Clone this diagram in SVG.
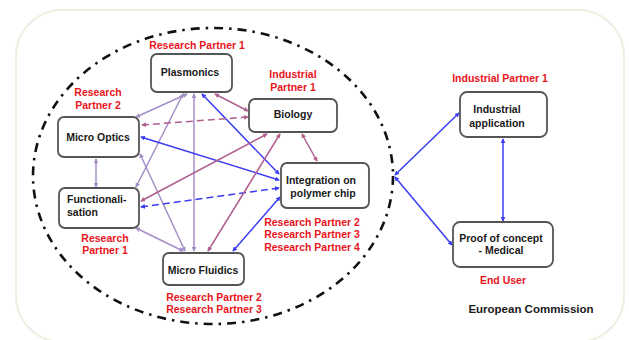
<svg xmlns="http://www.w3.org/2000/svg" width="629" height="340" viewBox="0 0 629 340">
<defs>
<style>
.box{fill:#fff;stroke:#555;stroke-width:1.8}
.t{font-family:"Liberation Sans",Arial,sans-serif;font-weight:bold;font-size:10.5px;fill:#1a1a1a}
.r{font-family:"Liberation Sans",Arial,sans-serif;font-weight:bold;font-size:10.5px;fill:#e8141c}
.lav{stroke:#a48fc8;stroke-width:1.5;fill:none;marker-start:url(#mlav);marker-end:url(#mlav)}
.mau{stroke:#b0608f;stroke-width:1.5;fill:none;marker-start:url(#mmau);marker-end:url(#mmau)}
.blu{stroke:#3c3cf2;stroke-width:1.5;fill:none;marker-start:url(#mblu);marker-end:url(#mblu)}
.dash{stroke-dasharray:7,4}
</style>
<marker id="mlav" viewBox="0 0 6 6" refX="5" refY="3" markerWidth="3.2" markerHeight="3.2" orient="auto-start-reverse"><path d="M0,0 L6,3 L0,6 z" fill="#a48fc8"/></marker>
<marker id="mmau" viewBox="0 0 6 6" refX="5" refY="3" markerWidth="3.2" markerHeight="3.2" orient="auto-start-reverse"><path d="M0,0 L6,3 L0,6 z" fill="#b0608f"/></marker>
<marker id="mblu" viewBox="0 0 6 6" refX="5" refY="3" markerWidth="3.2" markerHeight="3.2" orient="auto-start-reverse"><path d="M0,0 L6,3 L0,6 z" fill="#3c3cf2"/></marker>
</defs>
<rect x="0" y="0" width="629" height="340" fill="#fff"/>
<rect id="frame" x="16" y="10" width="608" height="332" rx="46" fill="none" stroke="#efeee0" stroke-width="2"/>
<ellipse id="consortium" cx="213" cy="176" rx="180" ry="148" fill="none" stroke="#111" stroke-width="2.6" stroke-dasharray="9,6,2.5,6"/>

<g id="connectors">
<line class="lav" x1="187" y1="94" x2="136" y2="117"/>
<line class="lav" x1="183" y1="94" x2="136" y2="187"/>
<line class="lav" x1="194" y1="94" x2="194" y2="251"/>
<line class="mau" x1="215" y1="94" x2="248" y2="111"/>
<line class="blu" x1="202" y1="94" x2="279" y2="174"/>
<line class="mau dash" x1="142" y1="125" x2="248" y2="117"/>
<line class="blu" x1="141" y1="137" x2="279" y2="180"/>
<line class="lav" x1="96" y1="159" x2="96" y2="187"/>
<line class="lav" x1="140" y1="154" x2="185" y2="251"/>
<line class="mau" x1="141" y1="201" x2="267" y2="134"/>
<line class="blu dash" x1="141" y1="207" x2="279" y2="188"/>
<line class="lav" x1="136" y1="228" x2="183" y2="251"/>
<line class="mau" x1="208" y1="251" x2="280" y2="134"/>
<line class="blu" x1="233" y1="251" x2="280" y2="197"/>
<line class="mau" x1="302" y1="134" x2="317" y2="161"/>
<line class="blu" x1="395" y1="175" x2="459" y2="113"/>
<line class="blu" x1="395" y1="177" x2="452" y2="245"/>
<line class="blu" x1="503" y1="139" x2="503" y2="221"/>
</g>

<g id="plasmonics">
<rect class="box" x="151" y="54" width="81" height="38" rx="6"/>
<text class="t" x="190" y="76" text-anchor="middle">Plasmonics</text>
</g>
<g id="biology">
<rect class="box" x="249" y="99" width="88" height="33" rx="6"/>
<text class="t" x="293" y="118" text-anchor="middle">Biology</text>
</g>
<g id="micro-optics">
<rect class="box" x="58" y="117" width="81" height="40" rx="6"/>
<text class="t" x="98" y="141" text-anchor="middle">Micro Optics</text>
</g>
<g id="functionalisation">
<rect class="box" x="59" y="188" width="80" height="40" rx="6"/>
<text class="t" x="67" y="203">Functionali-</text>
<text class="t" x="67" y="216">sation</text>
</g>
<g id="micro-fluidics">
<rect class="box" x="163" y="253" width="81" height="32" rx="6"/>
<text class="t" x="203" y="274" text-anchor="middle">Micro Fluidics</text>
</g>
<g id="integration">
<rect class="box" x="281" y="163" width="88" height="45" rx="6"/>
<text class="t" x="321" y="184" text-anchor="middle">Integration on</text>
<text class="t" x="323" y="197" text-anchor="middle">polymer chip</text>
</g>
<g id="industrial-application">
<rect class="box" x="460" y="92" width="87" height="45" rx="7"/>
<text class="t" x="497" y="113" text-anchor="middle">Industrial</text>
<text class="t" x="497" y="127" text-anchor="middle">application</text>
</g>
<g id="proof-of-concept">
<rect class="box" x="453" y="222" width="100" height="45" rx="7"/>
<text class="t" x="501" y="242" text-anchor="middle">Proof of concept</text>
<text class="t" x="501" y="254" text-anchor="middle">- Medical</text>
</g>

<g id="labels">
<text class="r" x="197" y="49" text-anchor="middle">Research Partner 1</text>
<text class="r" x="293" y="78" text-anchor="middle">Industrial</text>
<text class="r" x="293" y="91" text-anchor="middle">Partner 1</text>
<text class="r" x="98" y="96" text-anchor="middle">Research</text>
<text class="r" x="98" y="109" text-anchor="middle">Partner 2</text>
<text class="r" x="105" y="242" text-anchor="middle">Research</text>
<text class="r" x="105" y="254" text-anchor="middle">Partner 1</text>
<text class="r" x="214" y="301" text-anchor="middle">Research Partner 2</text>
<text class="r" x="214" y="313" text-anchor="middle">Research Partner 3</text>
<text class="r" x="312" y="226" text-anchor="middle">Research Partner 2</text>
<text class="r" x="312" y="238" text-anchor="middle">Research Partner 3</text>
<text class="r" x="312" y="251" text-anchor="middle">Research Partner 4</text>
<text class="r" x="500" y="82" text-anchor="middle">Industrial Partner 1</text>
<text class="r" x="503" y="284" text-anchor="middle">End User</text>
<text class="t" x="531" y="313" text-anchor="middle" style="font-size:11.5px">European Commission</text>
</g>
</svg>
